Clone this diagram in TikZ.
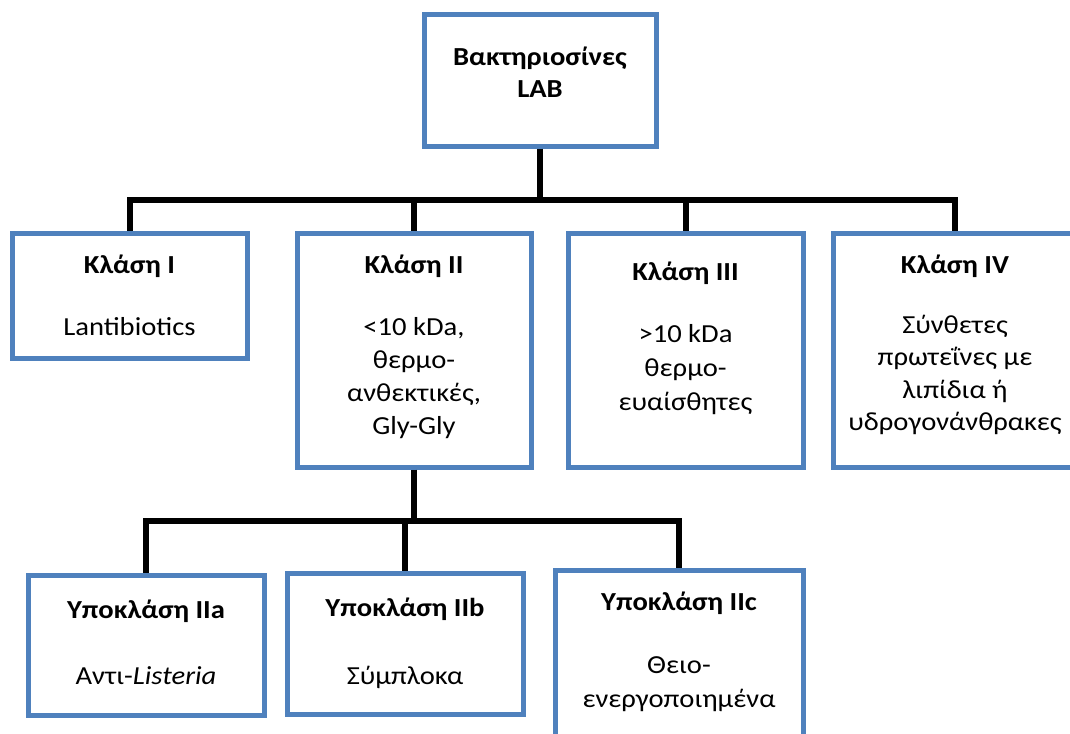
\documentclass[tikz,border=0pt]{standalone}
\usepackage{fontspec}
\setmainfont{Carlito}[FakeStretch=1.1]
\definecolor{boxblue}{HTML}{4F81BD}
\begin{document}
\begin{tikzpicture}[x=1pt,y=-1pt,
  boxstyle/.style={draw=boxblue,line width=5pt,fill=white,inner sep=0pt},
  link/.style={line width=6pt,draw=black,line join=miter},
  ttl/.style={inner sep=0pt,anchor=base,font=\fontsize{26}{33}\selectfont\bfseries},
  body/.style={inner sep=0pt,anchor=north,align=center,font=\fontsize{26}{#1}\selectfont},
  body/.default=33]
\useasboundingbox (0,0) rectangle (1070,733);
\clip (0,0) rectangle (1070,733);
% boxes
\node[boxstyle,minimum width=232pt,minimum height=131pt] (root) at (540,80.5) {};
\node[boxstyle,minimum width=235pt,minimum height=125pt] (c1) at (129.5,295.5) {};
\node[boxstyle,minimum width=234pt,minimum height=234pt] (c2) at (414,350) {};
\node[boxstyle,minimum width=235pt,minimum height=234pt] (c3) at (685.5,350) {};
\node[boxstyle,minimum width=244pt,minimum height=234pt] (c4) at (955,350) {};
\node[boxstyle,minimum width=236pt,minimum height=140pt] (s1) at (146,645) {};
\node[boxstyle,minimum width=236pt,minimum height=141pt] (s2) at (405,643.5) {};
\node[boxstyle,minimum width=248pt,minimum height=190pt] (s3) at (679,665) {};
% connectors
\coordinate (busA) at (540,200);
\coordinate (busB) at (414,521);
\draw[link] (root.south) -- (root.south |- busA);
\draw[link] (c1.north) -- (c1.north |- busA) -- (c4.north |- busA) -- (c4.north);
\draw[link] (c2.north |- busA) -- (c2.north);
\draw[link] (c3.north |- busA) -- (c3.north);
\draw[link] (c2.south) -- (c2.south |- busB);
\draw[link] (s1.north) -- (s1.north |- busB) -- (s3.north |- busB) -- (s3.north);
\draw[link] (s2.north |- busB) -- (s2.north);
% texts
\node[body=32,font=\fontsize{26}{32}\selectfont\bfseries] (rootT) at (540,42.6) {\strut Βακτηριοσίνες\\\strut LAB};
\node[ttl] (c1T) at (129.5,273) {Κλάση I};
\node[ttl] (c1B) at (129.5,335) {\mdseries Lantibiotics};
\node[ttl] (c2T) at (414,273) {Κλάση II};
\node[body] (c2B) at (414,311.9) {\strut <10 kDa,\\\strut θερμο-\\\strut ανθεκτικές,\\\strut Gly-Gly};
\node[ttl] (c3T) at (685.5,280) {Κλάση III};
\node[body=34] (c3B) at (685.5,318.2) {\strut >10 kDa\\\strut θερμο-\\\strut ευαίσθητες};
\node[ttl] (c4T) at (955,273) {Κλάση IV};
\node[body=32.5] (c4B) at (955,310.25) {\strut Σύνθετες\\\strut πρωτεΐνες με\\\strut λιπίδια ή\\\strut υδρογονάνθρακες};
\node[ttl] (s1T) at (146,618) {Υποκλάση IIa};
\node[ttl] (s1B) at (146,684) {\mdseries Αντι-\textit{Listeria}};
\node[ttl] (s2T) at (405,616) {Υποκλάση IIb};
\node[ttl] (s2B) at (405,684) {\mdseries Σύμπλοκα};
\node[ttl] (s3T) at (679,610) {Υποκλάση IIc};
\node[body=34] (s3B) at (679,649.2) {\strut Θειο-\\\strut ενεργοποιημένα};
\end{tikzpicture}
\end{document}
